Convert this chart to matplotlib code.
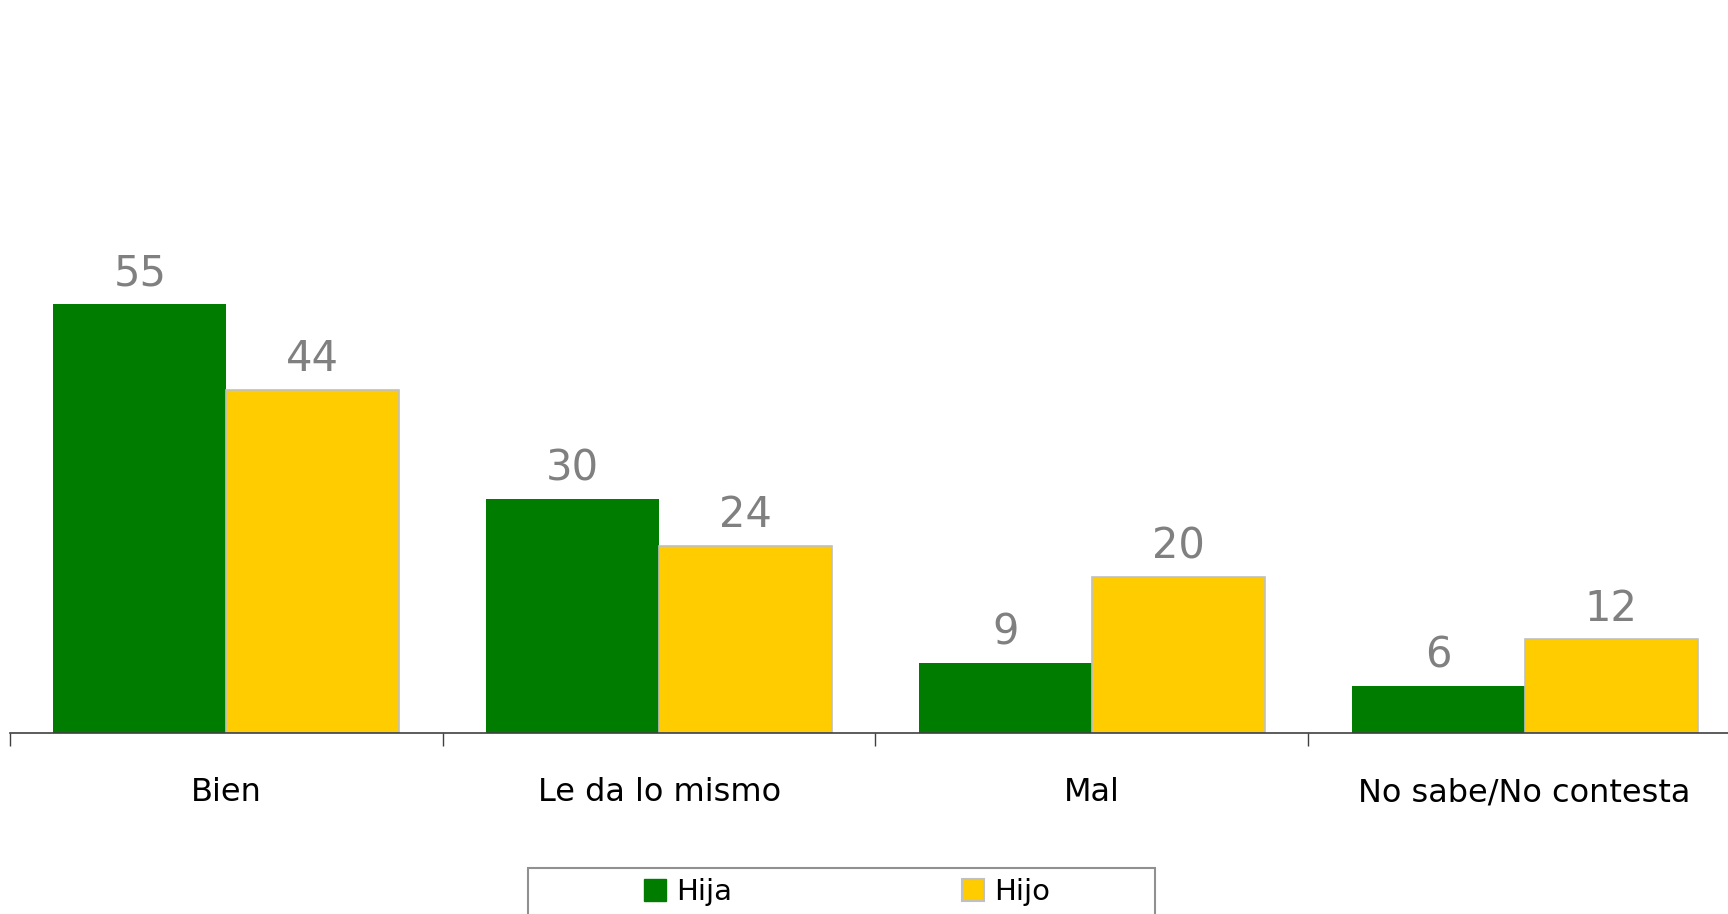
import numpy as np
import matplotlib
matplotlib.use("Agg")
import matplotlib.pyplot as plt
import matplotlib.patches as patches

# data
categories = ['Bien', 'Le da lo mismo', 'Mal', 'No sabe/No contesta']
hija = [55, 30, 9, 6]
hijo = [44, 24, 20, 12]
series_names = ['Hija', 'Hijo']

green = '#007D00'
yellow = '#FFCC00'
gray_txt = '#808080'

W, H = 1728, 914
fig = plt.figure(figsize=(W / 100, H / 100), dpi=100)
fig.patch.set_facecolor('white')

# axes: baseline at y=733px, starts at x=10px
ax = fig.add_axes([10 / W, 1 - 733 / H, 1 - 10 / W, 733 / H])
ax.set_facecolor('none')

x = np.arange(len(categories))
bw = 0.4
b1 = ax.bar(x - bw / 2, hija, bw, color=green, edgecolor=green, linewidth=0, zorder=2)
b2 = ax.bar(x + bw / 2, hijo, bw, color=yellow, edgecolor='#C0C0C0', linewidth=1.2, zorder=2)

for bars, vals in [(b1, hija), (b2, hijo)]:
    for r, v in zip(bars, vals):
        ax.annotate(str(v), (r.get_x() + r.get_width() / 2, v), xytext=(0, 7),
                    textcoords='offset points', ha='center', va='bottom',
                    fontsize=30, color=gray_txt)

ax.set_xlim(-0.5, 3.47)
ax.set_ylim(0, 94)

for s in ['top', 'right', 'left']:
    ax.spines[s].set_visible(False)
ax.spines['bottom'].set_color('#404040')
ax.spines['bottom'].set_linewidth(1.2)
ax.set_yticks([])

ax.set_xticks(x)
ax.set_xticklabels(categories, fontsize=23, color='black')
ax.tick_params(axis='x', which='major', length=0, pad=32)
ax.set_xticks(np.arange(-0.5, 3.5, 1.0), minor=True)
ax.tick_params(axis='x', which='minor', length=9, width=1, color='#404040', direction='out')

# legend box (cut off at the bottom of the picture)
box = patches.Rectangle((528 / W, -0.05), (1155 - 528) / W, 0.05 + 1 - 868 / H,
                        transform=fig.transFigure, facecolor='white',
                        edgecolor='#909090', linewidth=1.5, zorder=5)
fig.patches.append(box)

handles = [patches.Patch(facecolor=green, edgecolor=green),
           patches.Patch(facecolor=yellow, edgecolor='#C0C0C0', linewidth=1.5)]
leg = fig.legend(handles, series_names, loc='center', bbox_to_anchor=(847 / W, 1 - 892 / H),
                 ncol=2, frameon=False, fontsize=21, handlelength=0.75, handleheight=0.75,
                 handletextpad=0.35, columnspacing=7.9)
leg.set_zorder(6)

fig.savefig('out.png', dpi=100, facecolor='white')
